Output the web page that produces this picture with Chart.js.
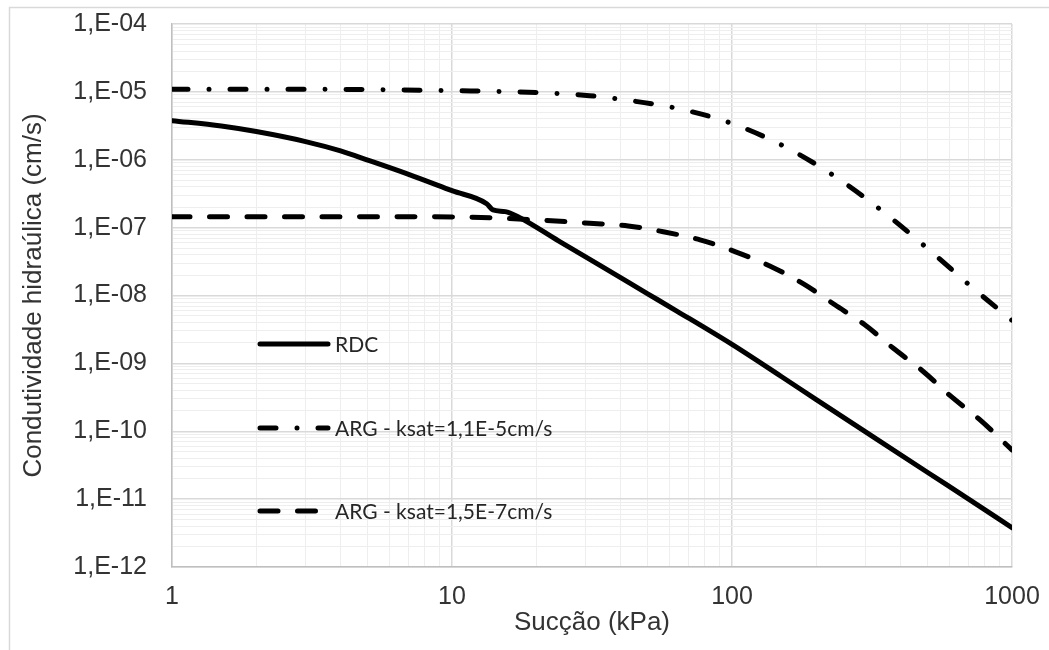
<!DOCTYPE html>
<html>
<head>
<meta charset="utf-8">
<script src="https://cdn.jsdelivr.net/npm/chart.js@4.4.1/dist/chart.umd.min.js"></script>
<style>
  body { margin: 0; background: #fff; }
</style>
</head>
<body>
<canvas id="graficoCondutividade" width="1049" height="650"></canvas>
<script>
// dados
let rdcSuccao = [1, 1.5, 2, 3, 4, 5, 7, 10, 13.3, 14, 15.5, 17.2, 24, 34, 50, 63.5, 100, 150, 200, 300, 500, 700, 1000]
let rdcK = [3.77e-6, 3.14e-6, 2.6e-6, 1.85e-6, 1.35e-6, 9.9e-7, 6.1e-7, 3.5e-7, 2.25e-7, 1.82e-7, 1.72e-7, 1.45e-7, 6.4e-8, 2.73e-8, 1.06e-8, 5.9e-9, 1.9e-9, 6.4e-10, 2.93e-10, 9.8e-11, 2.47e-11, 1.0e-11, 3.8e-12]

let arg1Succao = [1, 3, 10, 20, 31, 39.8, 63.8, 101, 158, 239, 352, 509, 733, 1000]
let arg1K = [1.09e-5, 1.09e-5, 1.04e-5, 9.8e-6, 8.8e-6, 7.8e-6, 5.7e-6, 3.37e-6, 1.48e-6, 5.3e-7, 1.63e-7, 4.6e-8, 1.24e-8, 4.3e-9]

let arg2Succao = [1, 3, 10, 20, 31, 42.6, 56.8, 76.9, 103, 137, 180, 233, 298, 377, 482, 609, 769, 1000]
let arg2K = [1.45e-7, 1.45e-7, 1.44e-7, 1.3e-7, 1.16e-7, 1.06e-7, 8.7e-8, 6.6e-8, 4.4e-8, 2.7e-8, 1.48e-8, 7.3e-9, 3.7e-9, 1.67e-9, 7.6e-10, 3.2e-10, 1.47e-10, 5.3e-11]

let nomes = ['RDC', 'ARG - ksat=1,1E-5cm/s', 'ARG - ksat=1,5E-7cm/s']

// decadas dos eixos (expoentes)
let decadasX = [0, 1, 2, 3]
let decadasY = [-12, -11, -10, -9, -8, -7, -6, -5, -4]

const pontos = (xs, ys) => xs.map((x, i) => ({ x: x, y: ys[i] }))

const ehPotencia = v => Math.abs(Math.log10(v) - Math.round(Math.log10(v))) < 1e-6

function ticksLog(decadas) {
    let t = []
    for (let i = 0; i < decadas.length - 1; i++) {
        for (let m = 1; m <= 9; m++) t.push({ value: m * Math.pow(10, decadas[i]) })
    }
    t.push({ value: Math.pow(10, decadas[decadas.length - 1]) })
    return t
}

const corGrade = c => ehPotencia(c.tick.value) ? '#d9d9d9' : '#eeeeee'
const larguraGrade = c => ehPotencia(c.tick.value) ? 1.5 : 1

const fonteEixo = { family: 'Liberation Sans, Arial, sans-serif', size: 25 }
const fonteTitulo = { family: 'Liberation Sans, Arial, sans-serif', size: 26 }
const corTexto = '#333333'

const estilos = [
    { borderDash: [] },
    { borderDash: [16, 21, 0.01, 21] },
    { borderDash: [18, 19.5] }
]

const moldura = {
    id: 'moldura',
    beforeDraw(chart) {
        const c = chart.ctx
        c.save()
        c.fillStyle = '#fff'
        c.fillRect(0, 0, chart.width, chart.height)
        c.strokeStyle = '#d9d9d9'
        c.lineWidth = 1.5
        c.strokeRect(9.5, 7.5, chart.width + 20, chart.height + 20)
        c.restore()
    }
}

// legenda dentro da area do grafico
const legendaInterna = {
    id: 'legendaInterna',
    afterDatasetsDraw(chart) {
        const c = chart.ctx
        const area = chart.chartArea
        const x0 = area.left + 88
        const x1 = area.left + 156
        const ys = [area.top + 320, area.top + 404, area.top + 487]
        chart.data.datasets.forEach((ds, i) => {
            c.save()
            c.strokeStyle = ds.borderColor
            c.lineWidth = ds.borderWidth
            c.lineCap = 'round'
            c.setLineDash(ds.borderDash)
            c.beginPath()
            c.moveTo(x0, ys[i])
            c.lineTo(x1, ys[i])
            c.stroke()
            c.setLineDash([])
            c.fillStyle = '#262626'
            c.font = '21px Lato, sans-serif'
            c.textBaseline = 'middle'
            c.fillText(ds.label, x1 + 7, ys[i] + 1)
            c.restore()
        })
    }
}

const series = [[rdcSuccao, rdcK], [arg1Succao, arg1K], [arg2Succao, arg2K]]

const graficoCondutividade = document.getElementById('graficoCondutividade')

new Chart(graficoCondutividade, {
    type: 'scatter',
    data: {
        datasets: series.map((s, i) => ({
            label: nomes[i],
            data: pontos(s[0], s[1]),
            showLine: true,
            borderColor: '#000',
            borderWidth: 5,
            borderCapStyle: 'round',
            borderJoinStyle: 'round',
            borderDash: estilos[i].borderDash,
            cubicInterpolationMode: 'monotone',
            pointRadius: 0
        }))
    },
    options: {
        responsive: false,
        animation: false,
        layout: { padding: { left: 12, top: 24, right: 37, bottom: 4 } },
        plugins: {
            legend: { display: false },
            tooltip: { enabled: false }
        },
        scales: {
            x: {
                type: 'logarithmic',
                min: 1,
                max: 1000,
                afterBuildTicks: s => { s.ticks = ticksLog(decadasX) },
                afterFit: s => {
                    s.height = 79
                    s.paddingLeft = 0
                    s.paddingRight = 0
                },
                ticks: {
                    autoSkip: false,
                    maxRotation: 0,
                    padding: 15,
                    color: corTexto,
                    font: fonteEixo,
                    callback: v => ehPotencia(v) ? String(Math.round(v)) : ''
                },
                grid: { color: corGrade, lineWidth: larguraGrade, drawTicks: false },
                border: { color: '#bfbfbf', width: 1.5 },
                title: {
                    display: true,
                    text: 'Sucção (kPa)',
                    color: corTexto,
                    font: fonteTitulo,
                    padding: { top: 0, bottom: 8 }
                }
            },
            y: {
                type: 'logarithmic',
                min: 1e-12,
                max: 1e-4,
                afterBuildTicks: s => { s.ticks = ticksLog(decadasY) },
                afterFit: s => {
                    s.width = 160
                    s.paddingTop = 0
                    s.paddingBottom = 0
                },
                ticks: {
                    autoSkip: false,
                    padding: 25,
                    color: corTexto,
                    font: fonteEixo,
                    callback: v => {
                        if (!ehPotencia(v)) return ''
                        let e = Math.round(Math.log10(v))
                        return '1,E' + (e < 0 ? '-' : '+') + String(Math.abs(e)).padStart(2, '0')
                    }
                },
                grid: { color: corGrade, lineWidth: larguraGrade, drawTicks: false },
                border: { color: '#bfbfbf', width: 1.5 },
                title: {
                    display: true,
                    text: 'Condutividade hidraúlica (cm/s)',
                    color: corTexto,
                    font: fonteTitulo,
                    padding: { top: 6, bottom: 0 }
                }
            }
        }
    },
    plugins: [moldura, legendaInterna]
})
</script>
</body>
</html>
